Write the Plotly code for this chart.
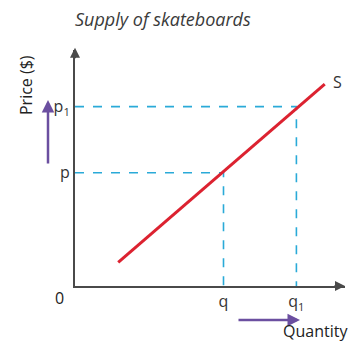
import plotly.graph_objects as go

# Supply curve endpoints (quantity, price) in chart units
supply_q = [1.6, 9.25]
supply_p = [1.0, 8.55]

# Reference points on the curve
q_vals = [5.5, 8.2]
p_vals = [4.8, 7.6]
q_labels = ["q", "q<sub>1</sub>"]
p_labels = ["p", "p<sub>1</sub>"]

axis_col = "#4a4a4a"
dash_col = "#2aaad8"
red = "#dc2230"
purple = "#6b4fa0"
font = "Open Sans"

fig = go.Figure()

# dashed guide lines
for q, p in zip(q_vals, p_vals):
    fig.add_trace(go.Scatter(x=[0, q, q], y=[p, p, 0], mode="lines",
                             line=dict(color=dash_col, width=1.6, dash="dash"),
                             hoverinfo="skip", showlegend=False))

# supply curve
fig.add_trace(go.Scatter(x=supply_q, y=supply_p, mode="lines",
                         line=dict(color=red, width=3),
                         showlegend=False))

fig.update_layout(
    width=355, height=342,
    margin=dict(l=75, r=10, t=50, b=56),
    paper_bgcolor="white", plot_bgcolor="white",
    font=dict(family=font, color="#333333"),
    title=dict(text="<i>Supply of skateboards</i>", x=75/355, xanchor="left",
               y=1 - 20/342, yanchor="middle", yref="container",
               font=dict(size=18, color="#3a3a3a", family=font)),
    xaxis=dict(range=[0, 10], showgrid=False, zeroline=False,
               showline=True, linecolor=axis_col, linewidth=2,
               tickvals=q_vals, ticktext=q_labels, ticks="",
               tickfont=dict(size=16, color="#333333")),
    yaxis=dict(range=[0, 10], showgrid=False, zeroline=False,
               showline=True, linecolor=axis_col, linewidth=2,
               tickvals=p_vals, ticktext=p_labels, ticks="",
               tickfont=dict(size=16, color="#333333")),
)

anns = [
    # axis arrowheads
    dict(x=0, y=1.01, xref="paper", yref="paper", ax=0, ay=12,
         showarrow=True, arrowhead=2, arrowsize=1, arrowwidth=2, arrowcolor=axis_col, text=""),
    dict(x=1.0, y=0, xref="paper", yref="paper", ax=-12, ay=0,
         showarrow=True, arrowhead=2, arrowsize=1, arrowwidth=2, arrowcolor=axis_col, text=""),
    # purple direction arrows
    dict(x=-0.1, y=(286 - 100) / 236, xref="paper", yref="paper", ax=0, ay=65,
         showarrow=True, arrowhead=2, arrowsize=1, arrowwidth=2.5, arrowcolor=purple, text=""),
    dict(x=(300 - 75) / 270, y=(286 - 320) / 236, xref="paper", yref="paper", ax=-63, ay=0,
         showarrow=True, arrowhead=2, arrowsize=1, arrowwidth=2.5, arrowcolor=purple, text=""),
    # labels
    dict(x=(26 - 75) / 270, y=(286 - 85) / 236, xref="paper", yref="paper", text="Price ($)",
         textangle=-90, xanchor="center", yanchor="middle", showarrow=False,
         font=dict(size=16, color="#222222")),
    dict(x=(350 - 75) / 270, y=(286 - 331) / 236, xref="paper", yref="paper", text="Quantity",
         xanchor="right", yanchor="middle", showarrow=False, font=dict(size=16, color="#222222")),
    dict(x=(59 - 75) / 270, y=(286 - 298) / 236, xref="paper", yref="paper", text="0",
         xanchor="center", yanchor="middle", showarrow=False, font=dict(size=16, color="#222222")),
    dict(x=supply_q[1], y=supply_p[1], xref="x", yref="y", text="S", xanchor="left",
         yanchor="middle", xshift=6, yshift=2, showarrow=False, font=dict(size=16, color="#333333")),
]
fig.update_layout(annotations=anns)

# drop the default page margin so the figure sits at the window corner
fig.write_html("out.html", config={"displayModeBar": False},
               post_script="document.body.style.margin='0';")
